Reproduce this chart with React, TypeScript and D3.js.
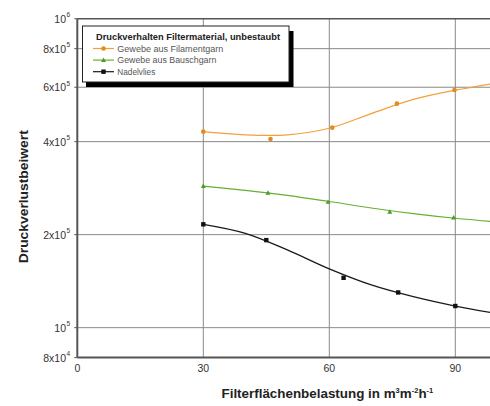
import React from "react";
import * as d3 from "d3";

// ---- data ----
const xTicks = [0, 30, 60, 90];
const yTickValues = [8e4, 1e5, 2e5, 4e5, 6e5, 8e5, 1e6];
const yTickMant = ["8x", "", "2x", "4x", "6x", "8x", ""];
const yTickExp = ["4", "5", "5", "5", "5", "5", "6"];
const yGridValues = [1e5, 2e5, 4e5, 6e5, 8e5];

const seriesNames = ["Gewebe aus Filamentgarn", "Gewebe aus Bauschgarn", "Nadelvlies"];
const legendTitle = "Druckverhalten Filtermaterial, unbestaubt";

// measured points
const filamentX = [30, 46, 60.7, 76.1, 89.8];
const filamentY = [4.31e5, 4.08e5, 4.44e5, 5.31e5, 5.88e5];
const bauschX = [30, 45.4, 59.7, 74.4, 89.6];
const bauschY = [2.87e5, 2.73e5, 2.55e5, 2.37e5, 2.27e5];
const nadelX = [30, 45, 63.4, 76.4, 90];
const nadelY = [2.16e5, 1.92e5, 1.45e5, 1.3e5, 1.175e5];

// fitted trend curves
const fitX = [30, 40, 50, 60, 70, 80, 90, 100];
const filamentFit = [4.31e5, 4.21e5, 4.21e5, 4.42e5, 4.93e5, 5.48e5, 5.87e5, 6.2e5];
const bauschFit = [2.87e5, 2.78e5, 2.68e5, 2.56e5, 2.44e5, 2.34e5, 2.26e5, 2.2e5];
const nadelFit = [2.16e5, 2.02e5, 1.785e5, 1.55e5, 1.375e5, 1.26e5, 1.175e5, 1.11e5];

const colors = ["#f4a03c", "#66b032", "#1a1a1a"];
const markerColors = ["#e88a1a", "#4f9a28", "#111111"];

const FONT = "'Liberation Sans', Arial, Helvetica, sans-serif";

export default function App() {
  const x = d3.scaleLinear().domain([0, 100]).range([77.3, 497.3]);
  const y = d3.scaleLog().domain([8e4, 1e6]).range([357.6, 18.7]);

  const line = d3
    .line<[number, number]>()
    .x((d) => x(d[0]))
    .y((d) => y(d[1]))
    .curve(d3.curveCatmullRom.alpha(0.5));

  const fits = [filamentFit, bauschFit, nadelFit];
  const ptsX = [filamentX, bauschX, nadelX];
  const ptsY = [filamentY, bauschY, nadelY];

  const left = x(0);
  const right = x(100);
  const top = y(1e6);
  const bottom = y(8e4);

  const marker = (i: number, cx: number, cy: number, key: string, s = 1) => {
    if (i === 0)
      return <circle key={key} cx={cx} cy={cy} r={2.3 * s} fill={markerColors[0]} />;
    if (i === 1)
      return (
        <path
          key={key}
          d={`M${cx},${cy - 2.6 * s}L${cx + 2.5 * s},${cy + 1.8 * s}L${cx - 2.5 * s},${cy + 1.8 * s}Z`}
          fill={markerColors[1]}
        />
      );
    return (
      <rect key={key} x={cx - 2.2 * s} y={cy - 2.2 * s} width={4.4 * s} height={4.4 * s} fill={markerColors[2]} />
    );
  };

  return (
    <svg
      width={490}
      height={406}
      style={{ position: "absolute", left: 0, top: 0, background: "#fff" }}
      fontFamily={FONT}
    >
      <rect x={0} y={0} width={490} height={406} fill="#fff" />
      {/* grid */}
      {xTicks.slice(1).map((t) => (
        <line key={"gx" + t} x1={x(t)} x2={x(t)} y1={top} y2={bottom} stroke="#8a8a8a" strokeWidth={1} />
      ))}
      {yGridValues.map((v) => (
        <line key={"gy" + v} x1={left} x2={right} y1={y(v)} y2={y(v)} stroke="#8a8a8a" strokeWidth={1} />
      ))}
      {/* frame */}
      <line x1={left} x2={right} y1={top} y2={top} stroke="#555" strokeWidth={1.5} />
      <line x1={left} x2={left} y1={top} y2={bottom} stroke="#555" strokeWidth={2} />
      <line x1={left} x2={right} y1={bottom} y2={bottom} stroke="#555" strokeWidth={2} />

      {/* y ticks & labels */}
      {yTickValues.map((v, i) => (
        <g key={"yt" + v}>
          <line x1={left - 3} x2={left} y1={y(v)} y2={y(v)} stroke="#555" strokeWidth={1} />
          <text x={66} y={y(v) + 4} textAnchor="end" fontSize={10.5} fill="#333">
            {yTickMant[i] + "10"}
          </text>
          <text x={66.5} y={y(v) - 1.5} textAnchor="start" fontSize={6.5} fill="#333">
            {yTickExp[i]}
          </text>
        </g>
      ))}

      {/* x tick labels */}
      {xTicks.map((t) => (
        <text key={"xt" + t} x={x(t)} y={372} textAnchor="middle" fontSize={10.5} fill="#333">
          {t}
        </text>
      ))}

      {/* curves */}
      {fits.map((f, i) => (
        <path
          key={"c" + i}
          d={line(fitX.map((xx, j) => [xx, f[j]] as [number, number])) || ""}
          fill="none"
          stroke={colors[i]}
          strokeWidth={i === 2 ? 1.3 : 1.2}
        />
      ))}
      {ptsX.map((xs, i) => xs.map((xx, j) => marker(i, x(xx), y(ptsY[i][j]), `m${i}-${j}`)))}

      {/* legend */}
      <rect x={86} y={31} width={207.5} height={56} fill="#000" />
      <rect x={82.5} y={26} width={206.5} height={56} fill="#fff" stroke="#222" strokeWidth={1} />
      <text x={96} y={39.8} fontSize={8.4} fontWeight="bold" fill="#222" textLength={184} lengthAdjust="spacingAndGlyphs">
        {legendTitle}
      </text>
      {seriesNames.map((n, i) => {
        const ly = 48.5 + i * 11.6;
        return (
          <g key={"lg" + i}>
            <line x1={93} x2={114} y1={ly} y2={ly} stroke={colors[i]} strokeWidth={1.2} />
            {marker(i, 103.5, ly, "lm" + i)}
            <text
              x={117.3}
              y={ly + 3}
              fontSize={8.3}
              fill="#555"
              textLength={[106, 99, 38][i]}
              lengthAdjust="spacingAndGlyphs"
            >
              {n}
            </text>
          </g>
        );
      })}

      {/* axis titles */}
      <text
        transform={`translate(28,${196.7}) rotate(-90)`}
        textAnchor="middle"
        fontSize={13}
        fontWeight="bold"
        fill="#222"
        textLength={133}
        lengthAdjust="spacingAndGlyphs"
      >
        Druckverlustbeiwert
      </text>
      <text x={221.5} y={398} fontSize={13.4} fontWeight="bold" fill="#222">
        Filterflächenbelastung in m
        <tspan dy={-5} fontSize={7.5}>3</tspan>
        <tspan dy={5}>m</tspan>
        <tspan dy={-5} fontSize={7.5}>-2</tspan>
        <tspan dy={5}>h</tspan>
        <tspan dy={-5} fontSize={7.5}>-1</tspan>
      </text>
    </svg>
  );
}
